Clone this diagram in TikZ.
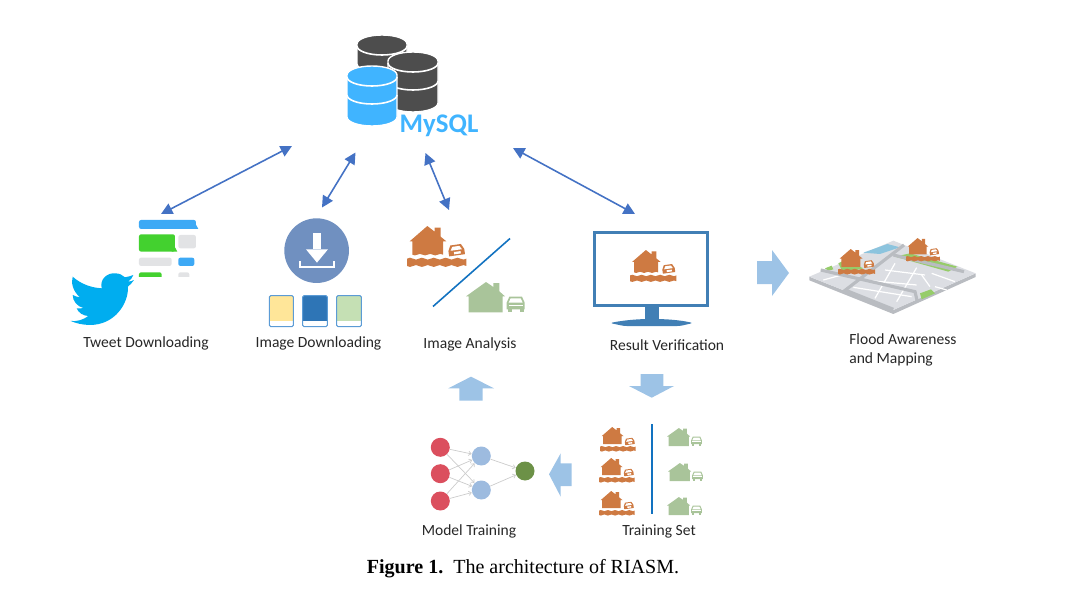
\documentclass[tikz,border=0pt]{standalone}
\usepackage{xcolor}
\usepackage{fontspec}
\setmainfont{Liberation Serif}
\newfontfamily\labelfont{Carlito}
\usetikzlibrary{arrows.meta}

\definecolor{floodc}{HTML}{CE7A42}
\definecolor{dryc}{HTML}{A9C49A}
\definecolor{linkc}{HTML}{4472C4}
\definecolor{blockc}{HTML}{9DC3E6}
\definecolor{dbgray}{HTML}{4D4D4D}
\definecolor{dbblue}{HTML}{40B4FF}
\definecolor{lineblue}{HTML}{1272C0}
\definecolor{screenc}{HTML}{417FB5}
\definecolor{bubbleblue}{HTML}{3DA9F5}
\definecolor{bubblegreen}{HTML}{43D12F}
\definecolor{bubblegray}{HTML}{E2E3E5}
\definecolor{roadc}{HTML}{B9BCC1}
\definecolor{groundc}{HTML}{DCDEE3}
\definecolor{birdc}{HTML}{00ADEF}
\definecolor{circlec}{HTML}{7090C0}
\definecolor{tabyellow}{HTML}{FFE699}
\definecolor{tabblue}{HTML}{2E75B6}
\definecolor{tabgreen}{HTML}{C5E0B4}
\definecolor{tabedge}{HTML}{5B9BD5}
\definecolor{mapgreen}{HTML}{96CC6A}
\definecolor{mapwater}{HTML}{8CC4DE}
\definecolor{redc}{HTML}{DB4F5E}
\definecolor{midc}{HTML}{9DBBDF}
\definecolor{outc}{HTML}{6C9147}

\newcommand{\dbcyl}[3]{
    \fill[#3, draw=white, line width=0.8pt] (#1,#2+9) arc[start angle=180, end angle=360, x radius=25, y radius=9] -- (#1+50,#2+51) arc[start angle=0, end angle=180, x radius=25, y radius=9] -- cycle;
    \draw[white, line width=0.9pt] (#1,#2+11) arc[start angle=180, end angle=0, x radius=25, y radius=9];
    \draw[white, line width=0.9pt] (#1,#2+29) arc[start angle=180, end angle=0, x radius=25, y radius=9];
}

\tikzset{
    link/.style={linkc, line width=0.9pt, {Triangle[length=6.5pt,width=6.5pt]}-{Triangle[length=6.5pt,width=6.5pt]}},
    blockarrow/.style={fill=blockc},
    tag/.style={font=\labelfont\fontsize{8.85}{10}\selectfont, text=black!85, inner sep=0pt},
    redcell/.style={circle, fill=redc, minimum size=0.38cm, inner sep=0pt},
    bluecell/.style={circle, fill=midc, minimum size=0.38cm, inner sep=0pt},
    greencell/.style={circle, fill=outc, minimum size=0.38cm, inner sep=0pt},
    netedge/.style={black!20, line width=0.4pt, -{Straight Barb[length=1.5pt,width=2.5pt]}},
    floodhouse/.pic={
        \fill[floodc] (8,46) -- (61,0) -- (83,17) -- (83,5) -- (101,5) -- (101,32) -- (118,46) -- (108,46) -- (108,86)
            \foreach \k in {2,1,0} {.. controls (\k*30.67+36,78) and (\k*30.67+26,94) .. (\k*30.67+16,86)} -- (16,46) -- cycle;
        \fill[floodc] (0,98) \foreach \k in {0,1,2,3,4} {.. controls (\k*35.6+12,88) and (\k*35.6+24,108) .. (\k*35.6+35.6,98)}
            -- (178,120) \foreach \k in {4,3,2,1,0} {.. controls (\k*35.6+24,110) and (\k*35.6+12,130) .. (\k*35.6,120)} -- cycle;
        \begin{scope}[rotate around={8:(148,72)}]
            \fill[floodc] (124,72) -- (132,56) -- (164,56) -- (172,72) -- (172,88) -- (124,88) -- cycle;
            \fill[white] (137,61) -- (159,61) -- (165,72) -- (131,72) -- cycle;
            \fill[white] (140,77) rectangle (160,84);
        \end{scope}
    },
    dryhouse/.pic={
        \fill[dryc] (0,43) -- (60,0) -- (82,15) -- (82,3) -- (100,3) -- (100,28) -- (117,43) -- (110,43) -- (110,91) -- (8,91) -- (8,43) -- cycle;
        \fill[dryc] (122,62) -- (130,44) -- (168,44) -- (176,62) -- (176,82) -- (122,82) -- cycle;
        \fill[white] (134,49) -- (164,49) -- (170,62) -- (128,62) -- cycle;
        \fill[white] (128,68) rectangle (170,73);
        \fill[dryc] (125,82) rectangle (137,91);
        \fill[dryc] (161,82) rectangle (173,91);
    }
}

\begin{document}
\begin{tikzpicture}[x=0.02cm, y=-0.02cm]
    \useasboundingbox (0,0) rectangle (1072,598);

    \dbcyl{357}{35}{dbgray}
    \dbcyl{388}{52}{dbgray}
    \dbcyl{347}{66}{dbblue}
    \node[font=\labelfont\bfseries\fontsize{15.3}{16}\selectfont, text=dbblue, inner sep=0pt] (mysql) at (439,126) {MySQL};

    \coordinate (dbtweet) at (292,146);
    \coordinate (dbimage) at (355.5,152.5);
    \coordinate (dbanalysis) at (425.5,153);
    \coordinate (dbresult) at (513,148);
    \coordinate (tweetend) at (161,214);
    \coordinate (imageend) at (322,207.5);
    \coordinate (analysisend) at (449,210);
    \coordinate (resultend) at (635,214);
    \draw[link] (tweetend) -- (dbtweet);
    \draw[link] (imageend) -- (dbimage);
    \draw[link] (analysisend) -- (dbanalysis);
    \draw[link] (resultend) -- (dbresult);

    \begin{scope}[shift={(60,20)}, scale=0.3333]
        \fill[bubbleblue, rounded corners=1.2pt] (237,600) rectangle (408,627);
        \fill[bubbleblue] (398,627) -- (415,627) -- (407,612) -- cycle;
        \fill[bubblegreen, rounded corners=1.2pt] (237,643) rectangle (345,695);
        \fill[bubblegreen] (335,695) -- (352,695) -- (344,680) -- cycle;
        \fill[bubblegray, rounded corners=1.2pt] (355,645) rectangle (408,685);
        \fill[bubblegray, rounded corners=1.2pt] (237,713) rectangle (335,738);
        \fill[bubbleblue, rounded corners=1.2pt] (355,713) rectangle (403,738);
        \begin{scope}
            \clip (230,750) rectangle (420,770);
            \fill[bubblegreen, rounded corners=1.2pt] (237,757) rectangle (305,790);
            \fill[bubblegray, rounded corners=1.2pt] (355,757) rectangle (388,790);
        \end{scope}
        \fill[birdc] (38,770) .. controls (60,790) and (90,803) .. (125,805) .. controls (118,775) and (145,758) .. (165,760) .. controls (178,760) and (188,765) .. (195,772) .. controls (205,770) and (213,768) .. (220,765) .. controls (217,773) and (212,780) .. (205,785) .. controls (212,784) and (217,783) .. (222,780) .. controls (217,788) and (210,795) .. (204,800) .. controls (206,850) and (165,915) .. (90,915) .. controls (68,915) and (48,910) .. (32,903) .. controls (50,905) and (70,900) .. (85,888) .. controls (70,888) and (55,878) .. (50,865) .. controls (57,866) and (63,866) .. (70,864) .. controls (52,860) and (38,843) .. (38,825) .. controls (45,829) and (53,831) .. (60,832) .. controls (40,815) and (32,790) .. (38,770) -- cycle;

        \fill[circlec] (770,692) circle (97);
        \fill[white] (758,640) rectangle (784,688);
        \fill[white] (738,688) -- (804,688) -- (771,728) -- cycle;
        \draw[white, line width=1.3pt] (721,724) -- (721,742) -- (822,742) -- (822,724);

        \fill[tabyellow] (628,827) rectangle (700,903);
        \fill[tabblue] (728,827) rectangle (802,903);
        \fill[tabgreen] (830,827) rectangle (904,903);
        \draw[tabedge, line width=0.6pt, rounded corners=0.8pt] (628,827) rectangle (700,920);
        \draw[tabedge, line width=0.6pt, rounded corners=0.8pt] (728,827) rectangle (802,920);
        \draw[tabedge, line width=0.6pt, rounded corners=0.8pt] (830,827) rectangle (904,920);
    \end{scope}

    \pic[scale=0.3333] at (407,226) {floodhouse};
    \pic[scale=0.3333] at (466,282) {dryhouse};
    \draw[lineblue, line width=0.9pt] (433,306.5) -- (510,238.5);

    \fill[screenc] (645,306) rectangle (659,321);
    \fill[screenc, rounded corners=1.5pt] (610,323) .. controls (625,320) and (640,319) .. (652,319) .. controls (665,319) and (680,320) .. (693,323) -- (680,326) -- (624,326) -- cycle;
    \draw[screenc, fill=white, line width=2pt] (594.7,232.7) rectangle (707.5,305.5);
    \pic[scale=0.26] at (630,250) {floodhouse};

    \fill[blockarrow] (757,261) -- (772,261) -- (772,250) -- (789,273) -- (772,296) -- (772,284) -- (757,284) -- cycle;
    \fill[blockarrow] (459.3,400.7) -- (459.3,388.3) -- (448.3,388.3) -- (471,376.7) -- (494,388.3) -- (482.7,388.3) -- (482.7,400.7) -- cycle;
    \fill[blockarrow] (640.7,374) -- (663.3,374) -- (663.3,386) -- (674,386) -- (651.7,397.7) -- (629,386) -- (640.7,386) -- cycle;
    \fill[blockarrow] (571.7,463.3) -- (560.7,463.3) -- (560.7,453.3) -- (549,474.3) -- (560.7,496.7) -- (560.7,486) -- (571.7,486) -- cycle;

    \begin{scope}[shift={(800,230)}, scale=0.3333]
        \fill[roadc] (28,140) -- (280,240) -- (527,130) -- (527,141) -- (280,252) -- (28,151) -- cycle;
        \fill[groundc] (28,140) -- (280,32) -- (527,130) -- (280,240) -- cycle;
        \fill[mapwater] (190,68) -- (262,42) -- (300,52) -- (240,72) -- cycle;
        \fill[mapgreen] (285,80) -- (330,70) -- (472,110) -- (445,125) -- cycle;
        \fill[mapgreen] (360,190) -- (393,178) -- (405,190) -- (365,208) -- cycle;
        \fill[mapgreen] (75,115) -- (95,107) -- (100,118) -- (85,122) -- cycle;
        \fill[mapgreen] (115,100) -- (135,90) -- (190,115) -- (130,130) -- cycle;
        \draw[white, line width=0.7pt] (285,100) -- (225,205);
        \draw[white, line width=0.7pt] (350,113) -- (290,215);
        \draw[white, line width=0.7pt] (160,172) -- (335,200);
        \draw[white, line width=0.7pt] (190,150) -- (350,165);
        \draw[white, line width=0.7pt] (255,120) -- (375,135);
        \draw[white, line width=0.7pt] (395,130) -- (465,155);
        \draw[white, line width=0.7pt] (365,135) -- (390,170);
        \draw[white, line width=0.7pt] (70,150) -- (125,135);
        \draw[white, line width=0.7pt] (405,170) -- (440,180);
        \draw[roadc, line width=1.8pt] (62,120) -- (345,185) -- (352,215);
        \draw[roadc, line width=1.8pt] (312,45) -- (130,185);
        \draw[roadc, line width=1.8pt] (280,75) -- (492,125);
        \draw[roadc, line width=1.8pt] (135,180) -- (280,238);
    \end{scope}
    \pic[scale=0.208] at (838,249) {floodhouse};
    \pic[scale=0.19] at (906,238) {floodhouse};

    \pic[scale=0.2] at (600,427) {floodhouse};
    \pic[scale=0.2] at (599,458) {floodhouse};
    \pic[scale=0.2] at (599,491) {floodhouse};
    \draw[lineblue, line width=1.2pt] (651.7,424) -- (651.7,514);
    \pic[scale=0.198] at (667,428) {dryhouse};
    \pic[scale=0.198] at (668,463) {dryhouse};
    \pic[scale=0.198] at (667,497) {dryhouse};

    \node[redcell] (in1) at (440.3,447.3) {};
    \node[redcell] (in2) at (440.3,473.7) {};
    \node[redcell] (in3) at (440.3,501) {};
    \node[bluecell] (mid1) at (481.3,456) {};
    \node[bluecell] (mid2) at (481.3,490) {};
    \node[greencell] (out) at (525,471) {};
    \foreach \a in {in1,in2,in3} {
        \foreach \b in {mid1,mid2} {
            \draw[netedge] (\a) -- (\b);
        }
    }
    \draw[netedge] (mid1) -- (out);
    \draw[netedge] (mid2) -- (out);

    \node[tag] (tweetlabel) at (146,343.5) {Tweet Downloading};
    \node[tag] (imagelabel) at (318.5,343.5) {Image Downloading};
    \node[tag] (analysislabel) at (470,344) {Image Analysis};
    \node[tag] (resultlabel) at (667,345) {Result Verification};
    \node[tag, align=left, anchor=west] (floodlabel) at (849,349.5) {Flood Awareness\\[0.8pt]and Mapping};
    \node[tag] (modellabel) at (469,531.5) {Model Training};
    \node[tag] (setlabel) at (659,531.5) {Training Set};
    \node[font=\fontsize{11.4}{13}\selectfont, inner sep=0pt] (caption) at (523,568.5) {\textbf{Figure 1.}\ \ The architecture of RIASM.};
\end{tikzpicture}
\end{document}
